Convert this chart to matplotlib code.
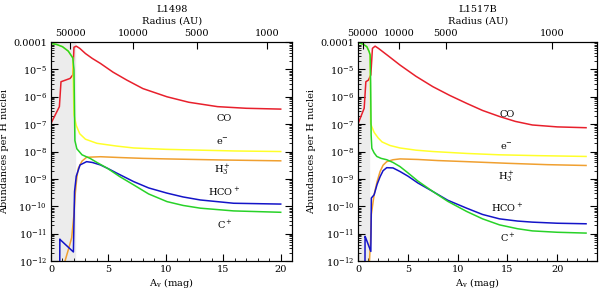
import numpy as np
import matplotlib
matplotlib.use('Agg')
import matplotlib.pyplot as plt
from matplotlib.ticker import FixedLocator, FixedFormatter, MultipleLocator, LogLocator, NullFormatter

plt.rcParams['font.family'] = 'DejaVu Serif'
plt.rcParams['font.size'] = 7
plt.rcParams['mathtext.fontset'] = 'dejavuserif'

# ---- L1498 (log10 abundance vs Av) ----
l1498_co_av = [0, 0.73, 0.87, 1.66, 1.9, 2.0, 2.2, 2.5, 3.0, 3.6, 4.3, 5.4, 6.6, 8.0, 10.1, 12.0, 14.5, 17, 20]
l1498_co = [-6.97, -6.36, -5.45, -5.33, -5.2, -4.19, -4.15, -4.23, -4.42, -4.6, -4.78, -5.1, -5.39, -5.7, -6.0, -6.2, -6.36, -6.42, -6.45]
l1498_e_av = [0, 0.5, 1.0, 1.5, 1.9, 2.0, 2.2, 2.5, 3.0, 4.0, 5.7, 7.2, 10, 13, 16, 20]
l1498_e = [-4.05, -4.09, -4.17, -4.33, -4.58, -6.66, -7.05, -7.35, -7.55, -7.7, -7.8, -7.87, -7.92, -7.95, -7.98, -8.0]
l1498_c_av = [0, 0.5, 1.0, 1.5, 1.9, 2.0, 2.08, 2.25, 2.7, 3.4, 4.0, 4.9, 6.0, 7.2, 8.5, 10.1, 11.5, 13, 15.9, 20]
l1498_c = [-4.05, -4.09, -4.17, -4.33, -4.58, -5.0, -7.6, -7.9, -8.12, -8.25, -8.4, -8.61, -8.92, -9.22, -9.55, -9.83, -9.97, -10.07, -10.17, -10.22]
l1498_h3_av = [1.22, 1.5, 1.8, 2.0, 2.1, 2.25, 2.38, 2.7, 3.1, 4.3, 6, 8, 10.1, 15, 20]
l1498_h3 = [-12.0, -11.6, -11.15, -10.3, -9.58, -8.95, -8.61, -8.35, -8.21, -8.19, -8.22, -8.25, -8.27, -8.31, -8.34]
l1498_hco_av = [0.76, 0.77, 0.8, 1.95, 2.05, 2.2, 2.53, 3.1, 3.6, 4.3, 5.0, 5.73, 7.2, 8.5, 10.1, 11.5, 13, 15.9, 20]
l1498_hco = [-12.3, -11.2, -11.22, -11.67, -9.46, -8.9, -8.49, -8.37, -8.4, -8.49, -8.63, -8.79, -9.1, -9.33, -9.52, -9.66, -9.77, -9.89, -9.92]

# ---- L1517B ----
l1517_co_av = [0, 0.6, 0.77, 1.03, 1.27, 1.43, 1.7, 2.03, 3.0, 4.2, 5.8, 7.5, 9.2, 10.9, 12.5, 14.2, 15.8, 17.5, 20, 22.9]
l1517_co = [-6.97, -6.42, -5.45, -5.39, -5.2, -4.23, -4.15, -4.23, -4.5, -4.84, -5.25, -5.63, -5.95, -6.24, -6.5, -6.72, -6.9, -7.03, -7.1, -7.13]
l1517_e_av = [0, 0.5, 0.87, 1.1, 1.2, 1.25, 1.35, 1.6, 2.0, 2.4, 3.2, 4.2, 5.8, 7.5, 10.9, 14.2, 18, 22.9]
l1517_e = [-4.02, -4.08, -4.17, -4.35, -4.47, -6.97, -7.08, -7.3, -7.5, -7.65, -7.78, -7.87, -7.95, -8.0, -8.07, -8.12, -8.15, -8.18]
l1517_c_av = [0, 0.5, 0.87, 1.1, 1.2, 1.25, 1.3, 1.37, 1.6, 1.87, 2.3, 2.87, 3.5, 4.2, 5, 6, 7.5, 9, 10.9, 12.5, 14.2, 16, 17.5, 20, 22.9]
l1517_c = [-4.02, -4.08, -4.17, -4.35, -4.47, -5.5, -7.4, -7.88, -8.05, -8.18, -8.25, -8.3, -8.4, -8.55, -8.78, -9.08, -9.46, -9.82, -10.19, -10.46, -10.68, -10.82, -10.9, -10.95, -10.98]
l1517_h3_av = [1.13, 1.25, 1.32, 1.6, 1.9, 2.2, 2.5, 2.87, 3.5, 4.2, 6, 8, 10.9, 15, 19, 22.9]
l1517_h3 = [-12.0, -11.2, -10.3, -9.58, -9.1, -8.73, -8.5, -8.37, -8.3, -8.27, -8.29, -8.33, -8.37, -8.43, -8.48, -8.51]
l1517_hco_av = [0.68, 0.69, 0.75, 1.27, 1.32, 1.6, 1.9, 2.2, 2.5, 2.87, 3.5, 4.2, 5, 6, 7.5, 9, 10.9, 12.5, 14.2, 16, 17.5, 20, 22.9]
l1517_hco = [-12.3, -11.1, -11.15, -11.65, -9.7, -9.58, -9.2, -8.92, -8.7, -8.59, -8.6, -8.73, -8.9, -9.15, -9.46, -9.78, -10.07, -10.3, -10.46, -10.54, -10.58, -10.62, -10.64]

radius_labels = ['50000', '10000', '5000', '1000']
l1498_radius_av = [1.66, 7.12, 12.7, 18.8]
l1517_radius_av = [0.45, 4.1, 8.8, 19.5]

species = ['CO', 'e$^{-}$', 'H$_3^+$', 'HCO$^+$', 'C$^+$']
colors = ['#e8202c', '#ffff2a', '#f0a030', '#1414c8', '#28d228']

y_ticks = [10.0**k for k in range(-12, -3)]
y_labels = ['10$^{-%d}$' % k for k in range(12, 4, -1)] + ['0.0001']


def setup_panel(ax, xmax, shade, radius_av, name):
    ax.axvspan(0, shade, color='#ececec', zorder=0)
    ax.set_yscale('log')
    ax.set_xlim(0, xmax)
    ax.set_ylim(1e-12, 1e-4)
    ax.yaxis.set_major_locator(FixedLocator(y_ticks))
    ax.yaxis.set_major_formatter(FixedFormatter(y_labels))
    ax.yaxis.set_minor_locator(LogLocator(base=10, subs=np.arange(2, 10), numticks=20))
    ax.yaxis.set_minor_formatter(NullFormatter())
    ax.xaxis.set_major_locator(MultipleLocator(5))
    ax.xaxis.set_minor_locator(MultipleLocator(1))
    ax.tick_params(which='both', direction='in', right=True, top=False, labelsize=7)
    ax.tick_params(which='major', length=5, pad=3)
    ax.tick_params(which='minor', length=2.5)
    ax.set_xlabel('A$_{\\rm v}$ (mag)', labelpad=1)

    top = ax.twiny()
    top.set_xlim(ax.get_xlim())
    top.set_xticks(radius_av)
    top.set_xticklabels(radius_labels)
    top.tick_params(direction='in', length=5, pad=3, labelsize=7)
    top.set_xlabel('Radius (AU)', labelpad=4)
    top.set_title(name, fontsize=7, pad=3)


fig = plt.figure(figsize=(6, 2.9), dpi=100)
ax1 = fig.add_axes([0.085, 0.1, 0.402, 0.755])
ax2 = fig.add_axes([0.597, 0.1, 0.398, 0.755])

setup_panel(ax1, 21, 2.1, l1498_radius_av, 'L1498')
setup_panel(ax2, 24, 1.1, l1517_radius_av, 'L1517B')
ax1.set_ylabel('Abundances per H nuclei', labelpad=3)
ax2.set_ylabel('Abundances per H nuclei', labelpad=3)

left_sets = [(l1498_co_av, l1498_co), (l1498_e_av, l1498_e), (l1498_h3_av, l1498_h3),
             (l1498_hco_av, l1498_hco), (l1498_c_av, l1498_c)]
right_sets = [(l1517_co_av, l1517_co), (l1517_e_av, l1517_e), (l1517_h3_av, l1517_h3),
              (l1517_hco_av, l1517_hco), (l1517_c_av, l1517_c)]

for ax, sets in [(ax1, left_sets), (ax2, right_sets)]:
    for (av, lg), col in zip(sets, colors):
        ax.plot(av, 10.0**np.array(lg), color=col, lw=1.1)

# species labels
l1498_lab_av = [15.1, 14.9, 14.9, 15.1, 15.1]
l1498_lab_y = [-6.78, -7.65, -8.67, -9.46, -10.68]
l1517_lab_av = [15.0, 14.9, 14.9, 15.0, 15.0]
l1517_lab_y = [-6.66, -7.82, -8.91, -10.07, -11.15]
for ax, xs, ys in [(ax1, l1498_lab_av, l1498_lab_y), (ax2, l1517_lab_av, l1517_lab_y)]:
    for s, x, y in zip(species, xs, ys):
        ax.text(x, 10.0**y, s, ha='center', va='center', fontsize=7)

fig.savefig('out.png', dpi=100)
